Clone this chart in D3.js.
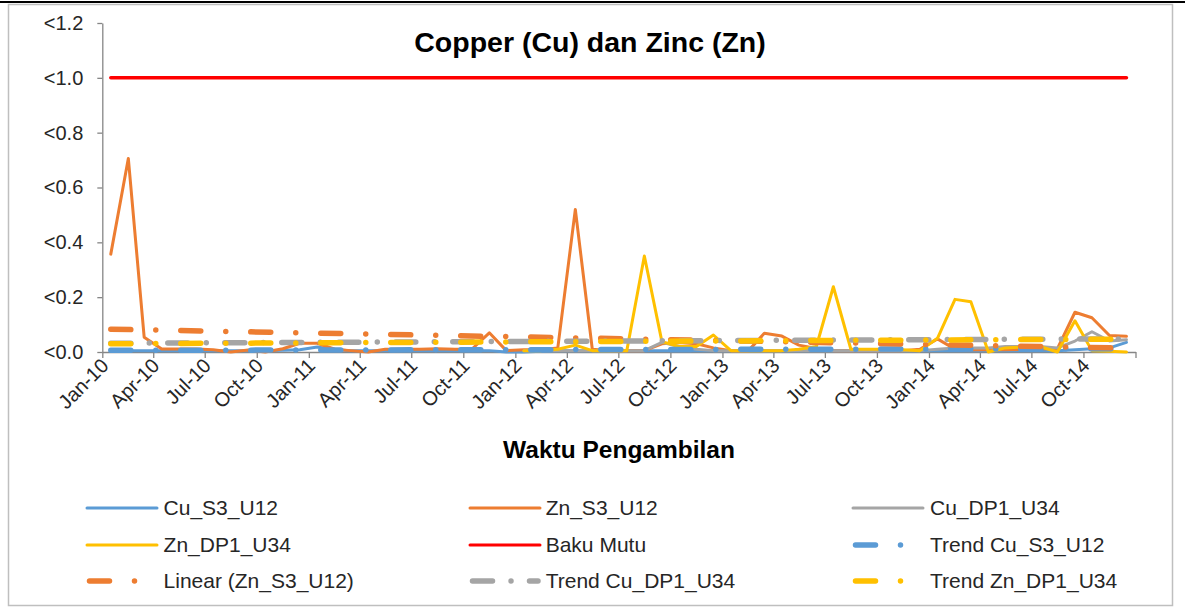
<!DOCTYPE html>
<html><head><meta charset="utf-8">
<script src="https://cdn.jsdelivr.net/npm/d3@7/dist/d3.min.js"></script>
<style>html,body{margin:0;padding:0;background:#fff;} svg{display:block;font-family:"Liberation Sans",Arial,sans-serif;}</style>
</head><body>
<svg id="chart" width="1185" height="613"></svg>
<script>
// ---- data (monthly samples, Jan-2010 .. Dec-2014) ----
const firstMonth = new Date(2010, 0, 16);
const monthCount = 60;
const cuS3U12 = [0.005,0.005,0.005,0.005,0.005,0.005,0.005,0.005,0.005,0.005,0.006,0.008,0.018,0.008,0.005,0.005,0.005,0.005,0.005,0.005,0.005,0.005,0.005,0.0,
  0.0,0.003,0.005,0.005,0.005,0.005,0.005,0.005,0.005,0.005,0.005,0.005,0.005,0.005,0.005,0.005,0.005,0.005,0.005,0.005,0.005,0.005,0.005,0.005,
  0.005,0.005,0.005,0.005,0.005,0.005,0.005,0.005,0.008,0.012,0.015,0.035];
const znS3U12 = [0.357,0.706,0.054,0.011,0.011,0.011,0.008,0.0,0.007,0.0,0.012,0.032,0.032,0.01,0.005,0.0,0.01,0.01,0.01,0.012,0.01,0.01,0.07,0.005,
  0.008,0.008,0.015,0.52,0.01,0.005,0.005,0.005,0.03,0.035,0.03,0.015,0.005,0.005,0.068,0.058,0.025,0.013,0.005,0.005,0.005,0.005,0.005,0.01,
  0.048,0.01,0.008,0.008,0.008,0.01,0.012,0.012,0.145,0.125,0.06,0.057];
const cuDP1U34 = [null,null,null,null,null,null,null,null,null,null,null,null,null,null,null,null,null,null,null,null,null,null,null,null,
  0.005,0.005,0.005,0.005,0.005,0.005,0.005,0.005,0.035,0.02,0.01,0.005,0.005,0.005,0.005,0.005,0.005,0.005,0.005,0.005,0.005,0.005,0.005,0.005,
  0.01,0.015,0.015,0.015,0.02,0.02,0.02,0.015,0.04,0.074,0.04,0.045];
const znDP1U34 = [null,null,null,null,null,null,null,null,null,null,null,null,null,null,null,null,null,null,null,null,null,null,null,null,
  0.005,0.005,0.01,0.025,0.005,0.005,0.005,0.35,0.038,0.02,0.02,0.062,0.005,0.005,0.005,0.005,0.01,0.02,0.238,0.01,0.01,0.01,0.008,0.005,
  0.05,0.192,0.183,0.0,0.015,0.018,0.02,0.0,0.114,0.005,0.003,0.0];
const bakuMutu = 1.0;
// trend lines: value at first and last sample
const trendNames  = ["Trend Cu_S3_U12","Linear (Zn_S3_U12)","Trend Cu_DP1_U34","Trend Zn_DP1_U34"];
const trendStart  = [0.006, 0.083, 0.032, 0.030];
const trendEnd    = [0.012, 0.014, 0.048, 0.047];
const yTicks = [0, 0.2, 0.4, 0.6, 0.8, 1.0, 1.2];

const colors = {blue:"#5B9BD5", orange:"#ED7D31", gray:"#A5A5A5", yellow:"#FFC000", red:"#FF0000"};

const dates = d3.range(monthCount).map(i => d3.timeMonth.offset(firstMonth, i));

const svg = d3.select("#chart");
// frame
svg.append("rect").attr("x",8.5).attr("y",4.5).attr("width",1164).attr("height",601)
  .attr("fill","#fff").attr("stroke","#BFBFBF").attr("stroke-width",1.5);
svg.append("line").attr("x1",0).attr("x2",1185).attr("y1",2).attr("y2",2).attr("stroke","#000").attr("stroke-width",2);

const x = d3.scaleTime().domain([new Date(2010,0,1), new Date(2015,0,1)]).range([102.3, 1135.5]);
const y = d3.scaleLinear().domain([0, 1.2]).range([352, 23]);

// y axis
const ya = svg.append("g").attr("transform","translate(102.3,0)")
  .call(d3.axisLeft(y).tickValues(yTicks).tickSize(5).tickSizeOuter(0).tickPadding(14)
    .tickFormat(d => "<" + d.toFixed(1)));
ya.select(".domain").attr("stroke","#868686").attr("stroke-width",1.3);
ya.selectAll(".tick line").attr("stroke","#868686").attr("stroke-width",1.3);
ya.selectAll(".tick text").attr("font-size",20).attr("fill","#262626")
  .attr("font-family","'Liberation Sans',Arial,sans-serif");

// x axis
const xa = svg.append("g").attr("transform","translate(0,352)")
  .call(d3.axisBottom(x).ticks(d3.timeMonth.every(3)).tickSize(6).tickSizeOuter(0)
    .tickFormat(d => d.getFullYear() < 2015 ? d3.timeFormat("%b-%y")(d) : ""));
xa.select(".domain").attr("stroke","#868686").attr("stroke-width",1.3);
xa.selectAll(".tick line").attr("stroke","#868686").attr("stroke-width",1.3);
xa.selectAll(".tick text").attr("font-size",20).attr("fill","#262626")
  .attr("font-family","'Liberation Sans',Arial,sans-serif")
  .attr("text-anchor","end").attr("dy",null).attr("y",null)
  .attr("transform","translate(7,15) rotate(-45)");

// series
const line = d3.line().defined(d => d.v != null).x(d => x(d.date)).y(d => y(d.v));
const mk = arr => arr.map((v,i) => ({date: dates[i], v}));
const series = [
  {name:"Cu_S3_U12", data:cuS3U12, color:colors.blue},
  {name:"Zn_S3_U12", data:znS3U12, color:colors.orange},
  {name:"Cu_DP1_U34", data:cuDP1U34, color:colors.gray},
  {name:"Zn_DP1_U34", data:znDP1U34, color:colors.yellow}
];
series.forEach(s => {
  svg.append("path").datum(mk(s.data)).attr("d", line)
    .attr("fill","none").attr("stroke", s.color).attr("stroke-width",3)
    .attr("stroke-linejoin","round").attr("stroke-linecap","round");
});
// Baku Mutu
svg.append("path").datum([{date:dates[0], v:bakuMutu},{date:dates[monthCount-1], v:bakuMutu}])
  .attr("d", line).attr("fill","none").attr("stroke",colors.red).attr("stroke-width",3.5)
  .attr("stroke-linecap","round");

// trend lines
const trendColors = [colors.blue, colors.orange, colors.gray, colors.yellow];
const trendDash = ["20,25,0,25","20,25,0,25","20,18.5,0,18.5","20,25,0,25"];
trendStart.forEach((s,k) => {
  svg.append("path").datum([{date:dates[0], v:s},{date:dates[monthCount-1], v:trendEnd[k]}])
    .attr("d", line).attr("fill","none").attr("stroke", trendColors[k]).attr("stroke-width",5.5)
    .attr("stroke-linecap","round").attr("stroke-dasharray", trendDash[k]);
});

// title
svg.append("text").attr("x",590).attr("y",52).attr("text-anchor","middle")
  .attr("font-size",28.5).attr("font-weight","bold").attr("fill","#000").text("Copper (Cu) dan Zinc (Zn)");
svg.append("text").attr("x",619).attr("y",458).attr("text-anchor","middle")
  .attr("font-size",24.5).attr("font-weight","bold").attr("fill","#000").text("Waktu Pengambilan");

// legend
const legendItems = [
  {label:"Cu_S3_U12", color:colors.blue, dash:null},
  {label:"Zn_S3_U12", color:colors.orange, dash:null},
  {label:"Cu_DP1_U34", color:colors.gray, dash:null},
  {label:"Zn_DP1_U34", color:colors.yellow, dash:null},
  {label:"Baku Mutu", color:colors.red, dash:null},
  {label:trendNames[0], color:colors.blue, dash:trendDash[0]},
  {label:trendNames[1], color:colors.orange, dash:trendDash[1]},
  {label:trendNames[2], color:colors.gray, dash:trendDash[2]},
  {label:trendNames[3], color:colors.yellow, dash:trendDash[3]}
];
const colX = [87, 470, 853], textX = [163.6, 545.7, 930], rowY = [508, 545, 581];
legendItems.forEach((it, i) => {
  const c = i % 3, r = Math.floor(i / 3);
  const g = svg.append("g");
  if (it.dash) {
    g.append("line").attr("x1", colX[c]+2.5).attr("x2", colX[c]+68).attr("y1", rowY[r]).attr("y2", rowY[r])
      .attr("stroke", it.color).attr("stroke-width",5.5).attr("stroke-linecap","round").attr("stroke-dasharray", it.dash);
  } else {
    g.append("line").attr("x1", colX[c]).attr("x2", colX[c]+70).attr("y1", rowY[r]).attr("y2", rowY[r])
      .attr("stroke", it.color).attr("stroke-width",3).attr("stroke-linecap","round");
  }
  g.append("text").attr("x", textX[c]).attr("y", rowY[r]).attr("dy","0.35em")
    .attr("font-size",21).attr("fill","#262626").text(it.label);
});
</script>
</body></html>
